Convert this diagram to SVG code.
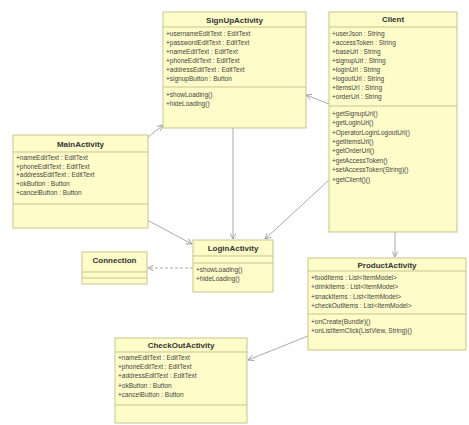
<svg xmlns="http://www.w3.org/2000/svg" width="469" height="425" viewBox="0 0 469 425">
<defs>
<marker id="arr" viewBox="0 0 10 10" refX="9" refY="5" markerWidth="7" markerHeight="7" orient="auto" markerUnits="userSpaceOnUse">
<path d="M1,1 L9,5 L1,9" fill="none" stroke="#999" stroke-width="1.2"/>
</marker>
</defs>
<style>
.box{fill:#fefcc8;stroke:#c9c38f;stroke-width:1}
.sep{stroke:#c9c38f;stroke-width:1}
.t{font-family:"Liberation Sans",Arial,sans-serif;font-size:8px;font-weight:bold;fill:#333;text-anchor:middle}
.a{font-family:"Liberation Sans",Arial,sans-serif;font-size:6.5px;fill:#444}
.c{fill:none;stroke:#aaa;stroke-width:1;marker-end:url(#arr)}
.d{stroke-dasharray:3,2}
</style>
<rect width="469" height="425" fill="#fff"/>
<g id="connectors">
<line class="c" x1="147" y1="138" x2="163" y2="125"/>
<line class="c" x1="147" y1="220" x2="192" y2="244"/>
<line class="c" x1="233" y1="128" x2="233" y2="239"/>
<line class="c" x1="329" y1="180" x2="265" y2="239"/>
<line class="c" x1="329" y1="104" x2="306" y2="95"/>
<line class="c" x1="395" y1="232" x2="395" y2="257"/>
<line class="c d" x1="193" y1="268" x2="148" y2="268"/>
<line class="c" x1="308" y1="336" x2="248" y2="360"/>
</g>
<g id="SignUpActivity">
<rect class="box" x="163" y="12" width="143" height="116"/>
<text class="t" x="234.5" y="23">SignUpActivity</text>
<line class="sep" x1="163" y1="27" x2="306" y2="27"/>
<text class="a" x="166" y="36">+usernameEditText : EditText</text>
<text class="a" x="166" y="45">+passwordEditText : EditText</text>
<text class="a" x="166" y="54">+nameEditText : EditText</text>
<text class="a" x="166" y="63">+phoneEditText : EditText</text>
<text class="a" x="166" y="72">+addressEditText : EditText</text>
<text class="a" x="166" y="81">+signupButton : Button</text>
<line class="sep" x1="163" y1="87" x2="306" y2="87"/>
<text class="a" x="166" y="97">+showLoading()</text>
<text class="a" x="166" y="106">+hideLoading()</text>
</g>
<g id="Client">
<rect class="box" x="329" y="12" width="128" height="220"/>
<text class="t" x="393" y="22">Client</text>
<line class="sep" x1="329" y1="27" x2="457" y2="27"/>
<text class="a" x="332" y="36">+userJson : String</text>
<text class="a" x="332" y="45">+accessToken : String</text>
<text class="a" x="332" y="54">+baseUrl : String</text>
<text class="a" x="332" y="63">+signupUrl : String</text>
<text class="a" x="332" y="72">+loginUrl : String</text>
<text class="a" x="332" y="81">+logoutUrl : String</text>
<text class="a" x="332" y="90">+itemsUrl : String</text>
<text class="a" x="332" y="99">+orderUrl : String</text>
<line class="sep" x1="329" y1="106" x2="457" y2="106"/>
<text class="a" x="332" y="116">+getSignupUrl()</text>
<text class="a" x="332" y="125">+getLoginUrl()</text>
<text class="a" x="332" y="135">+OperatorLoginLogoutUrl()</text>
<text class="a" x="332" y="144">+getItemsUrl()</text>
<text class="a" x="332" y="153">+getOrderUrl()</text>
<text class="a" x="332" y="163">+getAccessToken()</text>
<text class="a" x="332" y="172">+setAccessToken(String)()</text>
<text class="a" x="332" y="182">+getClient()()</text>
</g>
<g id="MainActivity">
<rect class="box" x="13" y="135" width="135" height="93"/>
<text class="t" x="80.5" y="147">MainActivity</text>
<line class="sep" x1="13" y1="152" x2="148" y2="152"/>
<text class="a" x="16" y="160">+nameEditText : EditText</text>
<text class="a" x="16" y="169">+phoneEditText : EditText</text>
<text class="a" x="16" y="177">+addressEditText : EditText</text>
<text class="a" x="16" y="186">+okButton : Button</text>
<text class="a" x="16" y="195">+cancelButton : Button</text>
<line class="sep" x1="13" y1="204" x2="148" y2="204"/>
</g>
<g id="Connection">
<rect class="box" x="82" y="252" width="65" height="32"/>
<text class="t" x="114.5" y="263">Connection</text>
<line class="sep" x1="82" y1="272" x2="147" y2="272"/>
<line class="sep" x1="82" y1="278" x2="147" y2="278"/>
</g>
<g id="LoginActivity">
<rect class="box" x="193" y="240" width="80" height="52"/>
<text class="t" x="233" y="251">LoginActivity</text>
<line class="sep" x1="193" y1="256" x2="273" y2="256"/>
<line class="sep" x1="193" y1="263" x2="273" y2="263"/>
<text class="a" x="196" y="272">+showLoading()</text>
<text class="a" x="196" y="281">+hideLoading()</text>
</g>
<g id="ProductActivity">
<rect class="box" x="308" y="258" width="158" height="92"/>
<text class="t" x="387" y="268">ProductActivity</text>
<line class="sep" x1="308" y1="271" x2="466" y2="271"/>
<text class="a" x="311" y="280">+foodItems : List&lt;ItemModel&gt;</text>
<text class="a" x="311" y="289">+drinkItems : List&lt;ItemModel&gt;</text>
<text class="a" x="311" y="299">+snackItems : List&lt;ItemModel&gt;</text>
<text class="a" x="311" y="308">+checkOutItems : List&lt;ItemModel&gt;</text>
<line class="sep" x1="308" y1="314" x2="466" y2="314"/>
<text class="a" x="311" y="324">+onCreate(Bundle)()</text>
<text class="a" x="311" y="333">+onListItemClick(ListView, String)()</text>
</g>
<g id="CheckOutActivity">
<rect class="box" x="115" y="338" width="132" height="85"/>
<text class="t" x="181" y="348">CheckOutActivity</text>
<line class="sep" x1="115" y1="352" x2="247" y2="352"/>
<text class="a" x="118" y="360">+nameEditText : EditText</text>
<text class="a" x="118" y="369">+phoneEditText : EditText</text>
<text class="a" x="118" y="378">+addressEditText : EditText</text>
<text class="a" x="118" y="388">+okButton : Button</text>
<text class="a" x="118" y="397">+cancelButton : Button</text>
<line class="sep" x1="115" y1="405" x2="247" y2="405"/>
</g>
</svg>
